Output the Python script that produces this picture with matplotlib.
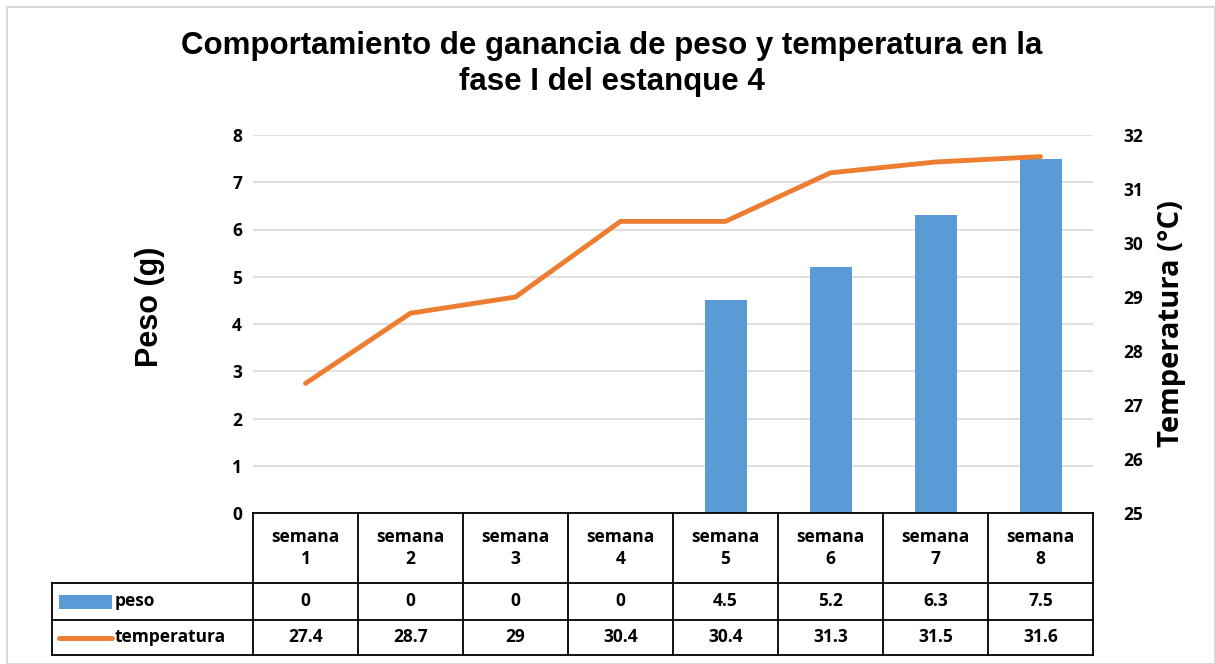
import matplotlib.pyplot as plt
from matplotlib.patches import Rectangle
from matplotlib.lines import Line2D

semanas = ["semana\n1", "semana\n2", "semana\n3", "semana\n4",
           "semana\n5", "semana\n6", "semana\n7", "semana\n8"]
peso = [0, 0, 0, 0, 4.5, 5.2, 6.3, 7.5]
temperatura = [27.4, 28.7, 29, 30.4, 30.4, 31.3, 31.5, 31.6]
peso_txt = ["0", "0", "0", "0", "4.5", "5.2", "6.3", "7.5"]
temp_txt = ["27.4", "28.7", "29", "30.4", "30.4", "31.3", "31.5", "31.6"]

azul = "#5B9BD5"
naranja = "#ED7D31"
tfont = "Open Sans"

W, H = 1215, 664
fig = plt.figure(figsize=(W / 100, H / 100), dpi=100)
# plot area in pixels: x 253..1093, y 135..513
ax = fig.add_axes([253 / W, 1 - 513 / H, 840 / W, 378 / H])
ax2 = ax.twinx()

x = list(range(len(semanas)))
ax.bar(x, peso, width=0.4, color=azul, zorder=2)
ax.set_xlim(-0.5, 7.5)
ax.set_ylim(0, 8)
ax.set_yticks(range(0, 9))
ax.grid(axis="y", color="#D9D9D9", lw=1.2, zorder=0)
ax.set_axisbelow(True)
ax.set_xticks([])
for s in ax.spines.values():
    s.set_visible(False)
for s in ax2.spines.values():
    s.set_visible(False)
ax.tick_params(axis="y", length=0, pad=8)
for lb in ax.get_yticklabels():
    lb.set_fontfamily(tfont)
    lb.set_fontweight("bold")
    lb.set_fontsize(12.5)

ax2.plot(x, temperatura, color=naranja, lw=3.5, solid_capstyle="round", zorder=3)
ax2.set_ylim(25, 32)
ax2.set_yticks(range(25, 33))
ax2.tick_params(axis="y", length=0, pad=22)
for lb in ax2.get_yticklabels():
    lb.set_fontfamily(tfont)
    lb.set_fontweight("bold")
    lb.set_fontsize(12.5)

ax.set_ylabel("Peso (g)", fontsize=22, fontweight="bold", family="Liberation Sans")
ax.yaxis.set_label_coords(-0.105, 0.545)
ax2.set_ylabel("Temperatura (°C)", fontsize=21, fontweight="bold", family=tfont)
ax2.yaxis.set_label_coords(1.076, 0.5)

fig.text(612 / W, 1 - 64 / H, "Comportamiento de ganancia de peso y temperatura en la\nfase I del estanque 4",
         ha="center", va="center", fontsize=22.5, fontweight="bold", family="Liberation Sans",
         linespacing=1.22)

# data table under the plot
tr = ax.get_xaxis_transform()
ph = 378.0
y_head = 0
y_r1 = -70 / ph
y_r2 = -107 / ph
y_r3 = -142 / ph
x_lab = -0.5 - (253 - 52) / 105.0
xr = 7.5
lk = dict(color="black", lw=1.3, transform=tr, clip_on=False)
# horizontal lines
ax.add_line(Line2D([-0.5, xr], [y_head, y_head], **lk))
for yy in (y_r1, y_r2, y_r3):
    ax.add_line(Line2D([x_lab, xr], [yy, yy], **lk))
# vertical lines
for i in range(len(semanas) + 1):
    ax.add_line(Line2D([i - 0.5, i - 0.5], [y_head, y_r3], **lk))
ax.add_line(Line2D([x_lab, x_lab], [y_r1, y_r3], **lk))

tk = dict(ha="center", va="center", fontsize=12.5, fontweight="bold", family=tfont,
          transform=tr, clip_on=False)
for i in x:
    ax.text(i, (y_head + y_r1) / 2, semanas[i], linespacing=1.3, **tk)
    ax.text(i, (y_r1 + y_r2) / 2, peso_txt[i], **tk)
    ax.text(i, (y_r2 + y_r3) / 2, temp_txt[i], **tk)

# legend keys inside the table
ax.add_patch(Rectangle((x_lab + 0.07, (y_r1 + y_r2) / 2 - 7 / ph), 0.5, 14 / ph,
                       facecolor=azul, transform=tr, clip_on=False))
ax.add_line(Line2D([x_lab + 0.07, x_lab + 0.57], [(y_r2 + y_r3) / 2] * 2, color=naranja, lw=3.5,
                   solid_capstyle="round", transform=tr, clip_on=False))
lab = dict(ha="left", va="center", fontsize=12.5, fontweight="bold", family=tfont,
           transform=tr, clip_on=False)
ax.text(x_lab + 0.6, (y_r1 + y_r2) / 2, "peso", **lab)
ax.text(x_lab + 0.6, (y_r2 + y_r3) / 2, "temperatura", **lab)

# chart border
fig.patches.append(Rectangle((7 / W, 0), 1 - 7 / W, 1 - 7 / H, transform=fig.transFigure,
                             fill=False, edgecolor="#D9D9D9", lw=1.5))

fig.savefig("out.png", dpi=100)
